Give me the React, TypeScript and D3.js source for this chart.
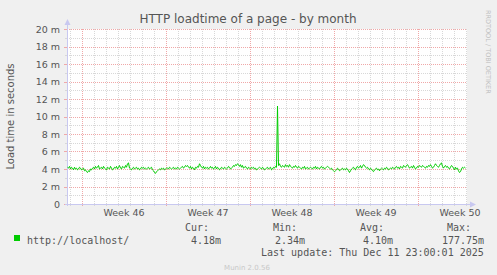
import React from "react";
import * as d3 from "d3";

const W = 497;
const H = 275;

// Chart data (2-hour samples)
const startTime = Date.UTC(2025, 10, 8, 18, 0, 0);
const endTime = Date.UTC(2025, 11, 12, 2, 0, 0);
const stepHours = 2;
const loadTimes = [
  4.2, 4.1, 4.3, 4.0, 4.2, 4.1, 3.9, 4.2, 4.0, 4.1, 3.9, 4.0, 4.2, 4.1, 3.9, 4.0, 4.1, 3.8, 3.9, 3.7,
  3.6, 3.8, 3.7, 4.0, 3.9, 4.1, 4.2, 4.0, 4.3, 4.1, 4.2, 4.4, 4.0, 4.1, 4.2, 4.0, 4.3, 4.1, 4.0, 3.9,
  4.2, 4.1, 4.0, 4.3, 4.1, 3.9, 4.0, 4.2, 4.1, 4.3, 4.0, 4.2, 4.4, 4.1, 4.0, 4.3, 4.2, 4.1, 4.4, 4.2,
  4.6, 4.7, 4.1, 4.0, 3.9, 4.1, 4.2, 4.0, 4.1, 4.2, 4.0, 4.1, 3.9, 4.0, 4.2, 4.1, 4.2, 4.0, 4.1, 4.0,
  4.1, 4.2, 4.0, 4.1, 4.2, 3.9, 3.8, 3.6, 3.5, 3.7, 3.8, 3.9, 4.0, 3.9, 4.1, 4.0, 4.1, 3.9, 4.0, 4.1,
  4.1, 4.0, 4.2, 4.1, 4.0, 4.1, 4.2, 4.0, 4.1, 4.0, 4.2, 4.1, 4.0, 4.1, 4.2, 4.3, 4.1, 4.2, 4.4, 4.3,
  4.4, 4.2, 4.1, 4.3, 4.0, 4.2, 4.1, 3.9, 4.2, 4.1, 4.3, 4.2, 4.6, 4.4, 4.2, 4.1, 4.3, 4.0, 4.2, 4.1,
  4.2, 4.0, 4.1, 4.3, 4.1, 4.2, 4.0, 4.1, 4.3, 4.0, 4.2, 4.1, 3.9, 4.0, 4.2, 4.1, 4.0, 4.2, 4.1, 4.0,
  4.1, 4.3, 4.2, 4.0, 4.1, 4.2, 4.4, 4.3, 4.5, 4.4, 4.6, 4.5, 4.3, 4.5, 4.2, 4.4, 4.1, 4.2, 4.3, 4.1,
  4.0, 4.2, 4.1, 4.0, 4.2, 4.1, 4.2, 4.0, 4.1, 3.9, 4.0, 4.1, 4.2, 4.1, 4.0, 4.2, 4.1, 3.9, 4.0, 4.1,
  4.2, 4.0, 4.1, 4.2, 3.9, 4.0, 4.2, 4.1, 4.3, 4.2, 11.2, 4.4, 4.6, 4.3, 4.2, 4.4, 4.3, 4.2, 4.5, 4.3,
  4.4, 4.2, 4.5, 4.3, 4.2, 4.1, 4.3, 4.2, 4.4, 4.2, 4.1, 4.3, 4.2, 4.1, 4.0, 4.2, 4.1, 4.3, 4.0, 4.1,
  4.2, 4.0, 4.1, 4.2, 4.1, 4.0, 4.2, 4.1, 4.3, 4.0, 4.2, 4.1, 4.0, 4.2, 4.3, 4.1, 4.2, 4.0, 4.1, 4.2,
  4.3, 4.2, 4.1, 4.0, 4.1, 3.9, 3.8, 3.7, 3.8, 3.9, 4.1, 4.0, 3.8, 3.9, 4.0, 4.1, 3.9, 4.0, 3.9, 4.1,
  4.0, 3.8, 3.6, 3.8, 4.0, 4.1, 4.2, 4.0, 3.9, 4.2, 4.3, 4.1, 4.2, 4.4, 4.1, 4.3, 4.5, 4.4, 4.2, 4.1,
  4.2, 4.0, 3.9, 4.1, 4.0, 3.8, 3.7, 3.9, 4.0, 4.1, 3.9, 4.0, 3.8, 4.0, 4.1, 4.0, 3.9, 4.1, 4.0, 4.2,
  4.1, 3.9, 4.0, 4.1, 4.0, 4.2, 4.1, 4.0, 4.2, 4.3, 4.1, 4.2, 4.0, 4.3, 4.2, 4.1, 4.4, 4.3, 4.2, 4.4,
  4.5, 4.3, 4.1, 4.2, 4.3, 4.1, 4.4, 4.2, 4.0, 4.1, 4.3, 4.2, 4.4, 4.3, 4.2, 4.4, 4.3, 4.2, 4.1, 4.3,
  4.2, 4.4, 4.3, 4.5, 4.3, 4.1, 4.2, 4.4, 4.6, 4.4, 4.3, 4.2, 4.4, 4.6, 4.7, 4.3, 4.1, 4.3, 4.4, 4.2,
  4.3, 4.1, 4.0, 4.2, 4.4, 4.3, 4.1, 3.9, 4.2, 4.0, 4.1, 3.8, 3.6, 3.7, 4.0, 4.2, 4.1, 4.2, 4.1,
];

const weekStarts = [
  Date.UTC(2025, 10, 10),
  Date.UTC(2025, 10, 17),
  Date.UTC(2025, 10, 24),
  Date.UTC(2025, 11, 1),
  Date.UTC(2025, 11, 8),
];
const weekLabels = ["Week 46", "Week 47", "Week 48", "Week 49", "Week 50"];

const yTickValues = [0, 2, 4, 6, 8, 10, 12, 14, 16, 18, 20];
const yTickLabels = ["0", "2 m", "4 m", "6 m", "8 m", "10 m", "12 m", "14 m", "16 m", "18 m", "20 m"];

const title = "HTTP loadtime of a page - by month";
const yTitle = "Load time in seconds";
const seriesName = "http://localhost/";
const statNames = ["Cur:", "Min:", "Avg:", "Max:"];
const statValues = ["4.18m", "2.34m", "4.10m", "177.75m"];
const lastUpdate = "Last update: Thu Dec 11 23:00:01 2025";

const PL = 67, PR = 467, PT = 29, PB = 204;

export default function App() {
  const x = d3.scaleUtc().domain([new Date(startTime), new Date(endTime)]).range([PL, PR]);
  const y = d3.scaleLinear().domain([0, 20]).range([PB, PT]);

  const pts = loadTimes.map((v, i) => ({ t: new Date(startTime + i * stepHours * 3600 * 1000), v }));
  const line = d3.line<{ t: Date; v: number }>().x((d) => x(d.t) + 0.5).y((d) => y(d.v));

  const days = d3.utcDay.range(new Date(startTime), new Date(endTime));
  const weekSet = new Set(weekStarts);
  const minorDays = days.filter((d) => !weekSet.has(d.getTime()));
  const minorY = d3.range(1, 20, 2);

  const font = "'DejaVu Sans', sans-serif";
  const mono = "'DejaVu Sans Mono', monospace";
  const txt = "#555555";
  const axisCol = "#c8c8f0";
  const majCol = "#f0a8a8";
  const minCol = "#d8d8d8";

  const statX = [185, 273, 360, 447];
  const valX = [191, 275, 363, 442];

  return (
    <svg width={W} height={H} style={{ position: "absolute", left: 0, top: 0 }} xmlns="http://www.w3.org/2000/svg">
      <rect x={0} y={0} width={W} height={H} fill="#f0f0f0" />
      <rect x={PL} y={PT} width={PR - PL} height={PB - PT} fill="#ffffff" />

      {/* minor grid */}
      {minorDays.map((d, i) => (
        <line key={"mx" + i} x1={Math.round(x(d)) + 0.5} x2={Math.round(x(d)) + 0.5} y1={PT} y2={PB} stroke={minCol} strokeDasharray="1,1" />
      ))}
      {minorY.map((v, i) => (
        <line key={"my" + i} x1={PL} x2={PR} y1={Math.round(y(v)) + 0.5} y2={Math.round(y(v)) + 0.5} stroke={minCol} strokeDasharray="1,1" />
      ))}
      {/* major grid */}
      {weekStarts.map((d, i) => (
        <line key={"Mx" + i} x1={Math.round(x(new Date(d))) + 0.5} x2={Math.round(x(new Date(d))) + 0.5} y1={PT} y2={PB + 3} stroke={majCol} strokeDasharray="1,1" />
      ))}
      {yTickValues.filter((v) => v > 0).map((v, i) => (
        <line key={"My" + i} x1={PL} x2={PR} y1={Math.round(y(v)) + 0.5} y2={Math.round(y(v)) + 0.5} stroke={majCol} strokeDasharray="1,1" />
      ))}

      {/* axis ticks */}
      {minorDays.map((d, i) => (
        <line key={"tx" + i} x1={Math.round(x(d)) + 0.5} x2={Math.round(x(d)) + 0.5} y1={PB} y2={PB + 2} stroke={minCol} />
      ))}
      {yTickValues.map((v, i) => (
        <line key={"ty" + i} x1={PL - 3} x2={PL} y1={Math.round(y(v)) + 0.5} y2={Math.round(y(v)) + 0.5} stroke={majCol} />
      ))}
      {minorY.map((v, i) => (
        <line key={"tmy" + i} x1={PL - 2} x2={PL} y1={Math.round(y(v)) + 0.5} y2={Math.round(y(v)) + 0.5} stroke={minCol} />
      ))}

      {/* axes */}
      <line x1={PL + 0.5} x2={PL + 0.5} y1={PB + 2} y2={PT - 5} stroke={axisCol} />
      <path d={`M${PL - 2.5},${PT - 4} L${PL + 3.5},${PT - 4} L${PL + 0.5},${PT - 10} Z`} fill={axisCol} />
      <line x1={PL - 2} x2={PR + 4} y1={PB + 0.5} y2={PB + 0.5} stroke={axisCol} />
      <path d={`M${PR + 3},${PB - 2.5} L${PR + 3},${PB + 3.5} L${PR + 9},${PB + 0.5} Z`} fill={axisCol} />

      {/* series */}
      <path d={line(pts) || ""} fill="none" stroke="#00cc00" strokeWidth={1} />

      {/* y labels */}
      {yTickValues.map((v, i) => (
        <text key={"yl" + i} x={60} y={y(v) + 3.5} textAnchor="end" fontFamily={font} fontSize={9.5} fill={txt}>
          {yTickLabels[i]}
        </text>
      ))}
      {/* x labels */}
      {weekStarts.map((d, i) => (
        <text key={"xl" + i} x={x(new Date(d + 3.5 * 86400000))} y={216} textAnchor="middle" fontFamily={font} fontSize={9.5} fill={txt}>
          {weekLabels[i]}
        </text>
      ))}

      {/* titles */}
      <text x={248} y={23} textAnchor="middle" fontFamily={font} fontSize={12} fill={txt}>{title}</text>
      <text transform={`translate(13.5,${(PT + PB) / 2}) rotate(-90)`} textAnchor="middle" fontFamily={font} fontSize={10} fill={txt}>{yTitle}</text>
      <text transform={`translate(485.5,10) rotate(90)`} textAnchor="start" fontFamily={font} fontSize={6.5} fill="#c0c0c0">RRDTOOL / TOBI OETIKER</text>

      {/* legend */}
      <rect x={14} y={235} width={6} height={6} fill="#00cc00" />
      <text x={27} y={243.5} fontFamily={mono} fontSize={10} fill={txt}>{seriesName}</text>
      {statNames.map((s, i) => (
        <text key={"sn" + i} x={statX[i]} y={231} fontFamily={mono} fontSize={10} fill={txt}>{s}</text>
      ))}
      {statValues.map((s, i) => (
        <text key={"sv" + i} x={valX[i]} y={243.5} fontFamily={mono} fontSize={10} fill={txt}>{s}</text>
      ))}
      <text x={261} y={256} fontFamily={mono} fontSize={10} fill={txt}>{lastUpdate}</text>
      <text x={247} y={270} textAnchor="middle" fontFamily={font} fontSize={7} fill="#c8c8c8">Munin 2.0.56</text>
    </svg>
  );
}
